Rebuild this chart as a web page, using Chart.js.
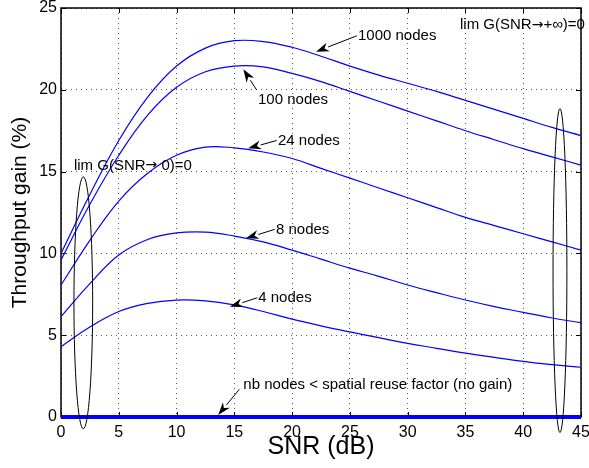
<!DOCTYPE html>
<html>
<head>
<meta charset="utf-8">
<script src="https://cdn.jsdelivr.net/npm/chart.js@4.4.1/dist/chart.umd.min.js"></script>
<style>
  html, body { margin: 0; padding: 0; background: #fff; }
  #wrap { width: 589px; height: 468px; }
</style>
</head>
<body>
<div id="wrap"><canvas id="gainChart"></canvas></div>
<script>
  const snr = [0, 2.5, 5, 7.5, 10, 12.5, 15, 17.5, 20, 22.5, 25, 27.5, 30, 32.5, 35, 37.5, 40, 42.5, 45];

  // Throughput gain (%) per network size
  const gain1000 = [10.0, 13.6, 16.9, 19.55, 21.45, 22.55, 23.0, 22.95, 22.6, 22.05, 21.45, 20.9, 20.4, 19.9, 19.35, 18.8, 18.25, 17.7, 17.2];
  const gain100 = [9.6, 13.0, 16.0, 18.45, 20.15, 21.1, 21.45, 21.4, 21.0, 20.5, 19.9, 19.3, 18.7, 18.1, 17.5, 16.95, 16.4, 15.9, 15.4];
  const gain24 = [8.07, 10.8, 13.2, 14.9, 16.0, 16.5, 16.45, 16.2, 15.8, 15.2, 14.6, 14.0, 13.4, 12.8, 12.2, 11.7, 11.2, 10.7, 10.2];
  const gain8 = [6.13, 8.15, 9.9, 10.85, 11.25, 11.3, 11.06, 10.7, 10.2, 9.65, 9.1, 8.6, 8.07, 7.6, 7.15, 6.75, 6.4, 6.05, 5.77];
  const gain4 = [4.3, 5.5, 6.45, 6.95, 7.15, 7.1, 6.85, 6.45, 5.98, 5.57, 5.2, 4.85, 4.5, 4.2, 3.9, 3.65, 3.4, 3.2, 3.04];
  const noGainSnr = [0, 45];
  const noGain = [0, 0];

  const xTicks = [0, 5, 10, 15, 20, 25, 30, 35, 40, 45];
  const yTicks = [0, 5, 10, 15, 20, 25];

  // Labels with arrows: text position, arrow tail, arrow tip (data units)
  const arrowLabels = [
    { text: '1000 nodes', lx: 25.7, ly: 23.29, tx: 25.6, ty: 23.3, hx: 22.07, hy: 22.33 },
    { text: '100 nodes', lx: 17.05, ly: 19.38, tx: 16.93, ty: 19.99, hx: 15.78, hy: 21.25 },
    { text: '24 nodes', lx: 18.78, ly: 16.89, tx: 18.66, ty: 16.9, hx: 16.2, hy: 16.42 },
    { text: '8 nodes', lx: 18.6, ly: 11.43, tx: 18.5, ty: 11.47, hx: 16.0, hy: 10.92 },
    { text: '4 nodes', lx: 17.07, ly: 7.26, tx: 16.99, ty: 7.29, hx: 14.62, hy: 6.74 },
    { text: 'nb nodes < spatial reuse factor (no gain)', lx: 15.78, ly: 1.96, tx: 15.43, ty: 1.69, hx: 13.6, hy: 0.12 }
  ];
  const plainLabels = [
    { text: 'lim G(SNR\u2192 0)=0', lx: 1.12, ly: 15.36 },
    { text: 'lim G(SNR\u2192+\u221e)=0', lx: 34.53, ly: 23.96 }
  ];
  const ellipses = [
    { cx: 1.93, cy: 6.98, rx: 0.81, ry: 7.7 },
    { cx: 43.18, cy: 8.95, rx: 0.6, ry: 9.9 }
  ];

  const FONT = "'Liberation Sans', Arial, Helvetica, sans-serif";
  const ARROW_FONT = "'DejaVu Sans', sans-serif";

  function toPoints(xs, ys) {
    return xs.map((x, i) => ({ x: x, y: ys[i] }));
  }

  function curve(data) {
    return {
      data: data,
      borderColor: '#0000ff',
      borderWidth: 1.2,
      pointRadius: 0,
      fill: false,
      tension: 0.4
    };
  }

  // text with the arrow glyph taken from a font that draws it full width
  function drawMixedText(ctx, text, x, y) {
    const parts = text.split('\u2192');
    parts.forEach((p, i) => {
      ctx.font = '15px ' + FONT;
      ctx.fillText(p, x, y);
      x += ctx.measureText(p).width;
      if (i < parts.length - 1) {
        ctx.font = '14px ' + ARROW_FONT;
        ctx.fillText('\u2192', x, y);
        x += ctx.measureText('\u2192').width;
      }
    });
  }

  // Box, inward tick marks, arrows, ellipses and text
  const decorations = {
    id: 'decorations',
    beforeDatasetsDraw(chart) {
      const ctx = chart.ctx;
      const a = chart.chartArea;
      const xs = chart.scales.x, ys = chart.scales.y;
      ctx.save();
      ctx.strokeStyle = '#000';
      ctx.lineWidth = 1.5;
      ctx.strokeRect(a.left, a.top, a.right - a.left, a.bottom - a.top);
      ctx.lineWidth = 1;
      ctx.beginPath();
      xTicks.forEach(v => {
        const px = Math.round(xs.getPixelForValue(v)) + 0.5;
        ctx.moveTo(px, a.bottom); ctx.lineTo(px, a.bottom - 5);
        ctx.moveTo(px, a.top); ctx.lineTo(px, a.top + 5);
      });
      yTicks.forEach(v => {
        const py = Math.round(ys.getPixelForValue(v)) + 0.5;
        ctx.moveTo(a.left, py); ctx.lineTo(a.left + 5, py);
        ctx.moveTo(a.right, py); ctx.lineTo(a.right - 5, py);
      });
      ctx.stroke();
      ctx.restore();
    },
    afterDatasetsDraw(chart) {
      const ctx = chart.ctx;
      const xs = chart.scales.x, ys = chart.scales.y;
      ctx.save();
      ctx.strokeStyle = '#000';
      ctx.fillStyle = '#000';
      ctx.lineWidth = 1;

      ellipses.forEach(e => {
        const cx = xs.getPixelForValue(e.cx), cy = ys.getPixelForValue(e.cy);
        const rx = Math.abs(xs.getPixelForValue(e.cx + e.rx) - cx);
        const ry = Math.abs(ys.getPixelForValue(e.cy + e.ry) - cy);
        ctx.beginPath();
        ctx.ellipse(cx, cy, rx, ry, 0, 0, Math.PI * 2);
        ctx.stroke();
      });

      arrowLabels.forEach(l => {
        const x0 = xs.getPixelForValue(l.tx), y0 = ys.getPixelForValue(l.ty);
        const x1 = xs.getPixelForValue(l.hx), y1 = ys.getPixelForValue(l.hy);
        const ang = Math.atan2(y1 - y0, x1 - x0);
        const len = 13, half = 4.5;
        const bx = x1 - len * Math.cos(ang), by = y1 - len * Math.sin(ang);
        ctx.beginPath();
        ctx.moveTo(x0, y0);
        ctx.lineTo(bx, by);
        ctx.stroke();
        ctx.beginPath();
        ctx.moveTo(x1, y1);
        ctx.lineTo(bx + half * Math.sin(ang), by - half * Math.cos(ang));
        ctx.lineTo(x1 - (len - 4) * Math.cos(ang), y1 - (len - 4) * Math.sin(ang));
        ctx.lineTo(bx - half * Math.sin(ang), by + half * Math.cos(ang));
        ctx.closePath();
        ctx.fill();
      });

      ctx.textAlign = 'left';
      ctx.textBaseline = 'middle';
      ctx.font = '15px ' + FONT;
      arrowLabels.forEach(l => {
        ctx.fillText(l.text, xs.getPixelForValue(l.lx), ys.getPixelForValue(l.ly));
      });
      plainLabels.forEach(l => {
        drawMixedText(ctx, l.text, xs.getPixelForValue(l.lx), ys.getPixelForValue(l.ly));
      });
      ctx.restore();
    }
  };

  const ctxGain = document.getElementById('gainChart').getContext('2d');
  const gainChart = new Chart(ctxGain, {
    type: 'line',
    data: {
      datasets: [
        curve(toPoints(snr, gain1000)),
        curve(toPoints(snr, gain100)),
        curve(toPoints(snr, gain24)),
        curve(toPoints(snr, gain8)),
        curve(toPoints(snr, gain4)),
        {
          data: toPoints(noGainSnr, noGain),
          borderColor: '#0000ff',
          borderWidth: 4,
          pointRadius: 0,
          fill: false,
          clip: false
        }
      ]
    },
    options: {
      responsive: true,
      maintainAspectRatio: false,
      animation: false,
      layout: { padding: { top: 8, right: 8, left: 0, bottom: 0 } },
      plugins: {
        legend: { display: false },
        tooltip: { enabled: false }
      },
      scales: {
        x: {
          type: 'linear',
          min: 0,
          max: 45,
          afterBuildTicks: s => { s.ticks = xTicks.map(v => ({ value: v })); },
          afterFit: s => { s.height = 51; s.paddingLeft = 0; s.paddingRight = 0; },
          ticks: { color: '#000', padding: 6, maxRotation: 0, font: { family: FONT, size: 16 } },
          grid: { color: '#555', drawTicks: false, lineWidth: 1 },
          border: { display: false, dash: [1, 4] },
          title: { display: true, text: 'SNR (dB)', color: '#000', padding: { top: 0, bottom: 6 }, font: { family: FONT, size: 25 } }
        },
        y: {
          min: 0,
          max: 25,
          afterBuildTicks: s => { s.ticks = yTicks.map(v => ({ value: v })); },
          afterFit: s => { s.width = 61; s.paddingTop = 0; s.paddingBottom = 0; },
          ticks: { color: '#000', padding: 4, font: { family: FONT, size: 16 } },
          grid: { color: '#555', drawTicks: false, lineWidth: 1 },
          border: { display: false, dash: [1, 4] },
          title: { display: true, text: 'Throughput gain (%)', color: '#000', padding: { top: 8, bottom: 0 }, font: { family: FONT, size: 21 } }
        }
      }
    },
    plugins: [decorations]
  });
</script>
</body>
</html>
